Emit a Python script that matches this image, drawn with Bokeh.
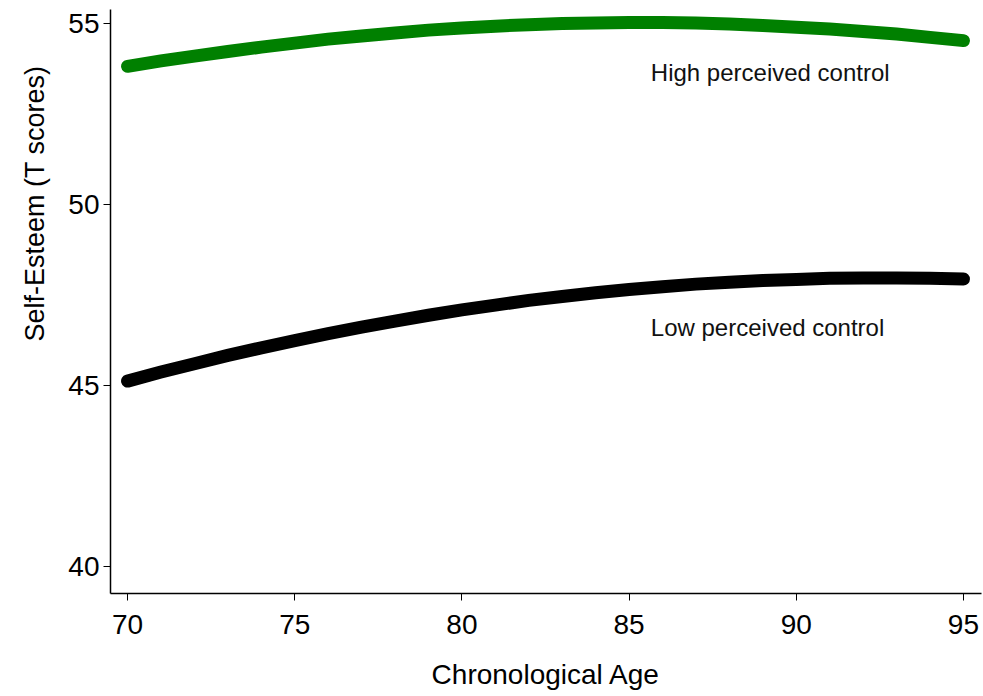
from bokeh.plotting import figure
from bokeh.models import Range1d, FixedTicker, ColumnDataSource, Title
from bokeh.core.properties import value
from bokeh.embed import file_html
from bokeh.resources import INLINE

# Data
age = [70, 71, 72, 73, 74, 75, 76, 77, 78, 79, 80, 81, 82, 83, 84, 85,
       86, 87, 88, 89, 90, 91, 92, 93, 94, 95]
high_control = [53.82, 53.97, 54.10, 54.23, 54.35, 54.46, 54.57, 54.66, 54.74,
                54.82, 54.88, 54.93, 54.97, 55.00, 55.02, 55.03, 55.03, 55.02,
                54.99, 54.95, 54.90, 54.85, 54.78, 54.71, 54.62, 54.53]
low_control = [45.12, 45.37, 45.60, 45.83, 46.04, 46.24, 46.43, 46.61, 46.78,
               46.94, 47.09, 47.22, 47.35, 47.46, 47.56, 47.65, 47.73, 47.80,
               47.85, 47.90, 47.93, 47.96, 47.97, 47.97, 47.96, 47.94]
label_text = ["High perceived control", "Low perceived control"]
label_x = [85.65, 85.65]
label_y = [53.65, 46.6]
x_ticks = [70, 75, 80, 85, 90, 95]
y_ticks = [40, 45, 50, 55]
x_title = "Chronological Age"
y_title = "Self-Esteem (T scores)"

FONT = "Liberation Sans"

p = figure(width=983, height=696, output_backend="svg", toolbar_location=None,
           x_range=Range1d(69.49, 95.54), y_range=Range1d(39.25, 55.39),
           min_border_left=110, min_border_right=2, min_border_top=9,
           min_border_bottom=103)

p.line(age, high_control, line_color="#008000", line_width=13,
       line_cap="round", line_join="round")
p.line(age, low_control, line_color="black", line_width=13,
       line_cap="round", line_join="round")

src = ColumnDataSource(dict(x=label_x, y=label_y, t=label_text))
p.text(x="x", y="y", text="t", source=src, text_font=value(FONT),
       text_font_size="24px", text_color="#111111", text_align="left",
       text_baseline="middle")

p.xgrid.visible = False
p.ygrid.visible = False
p.outline_line_color = None
p.background_fill_color = "white"
p.border_fill_color = "white"

p.xaxis.ticker = FixedTicker(ticks=x_ticks)
p.yaxis.ticker = FixedTicker(ticks=y_ticks)
p.xaxis.axis_label = x_title
for ax in (p.xaxis, p.yaxis):
    ax.axis_label_text_font = FONT
    ax.axis_label_text_font_size = "28px"
    ax.axis_label_text_font_style = "normal"
    ax.axis_label_text_color = "black"
    ax.major_label_text_font = FONT
    ax.major_label_text_font_size = "28px"
    ax.major_label_text_color = "black"
    ax.axis_line_color = "black"
    ax.axis_line_width = 1.5
    ax.major_tick_line_color = "black"
    ax.major_tick_line_width = 1
    ax.major_tick_out = 7
    ax.major_tick_in = 0
    ax.minor_tick_line_color = None
p.xaxis.major_label_standoff = 14
p.xaxis.axis_label_standoff = 22
p.yaxis.major_label_standoff = 4

# y-axis title, placed toward the top (off-centre) as in the reference
yt = Title(text=y_title, align="right", offset=56, text_font=FONT,
           text_font_size="27px", text_font_style="normal",
           text_color="black", standoff=32)
p.add_layout(yt, "left")

open("out.html", "w").write(file_html(p, INLINE))
